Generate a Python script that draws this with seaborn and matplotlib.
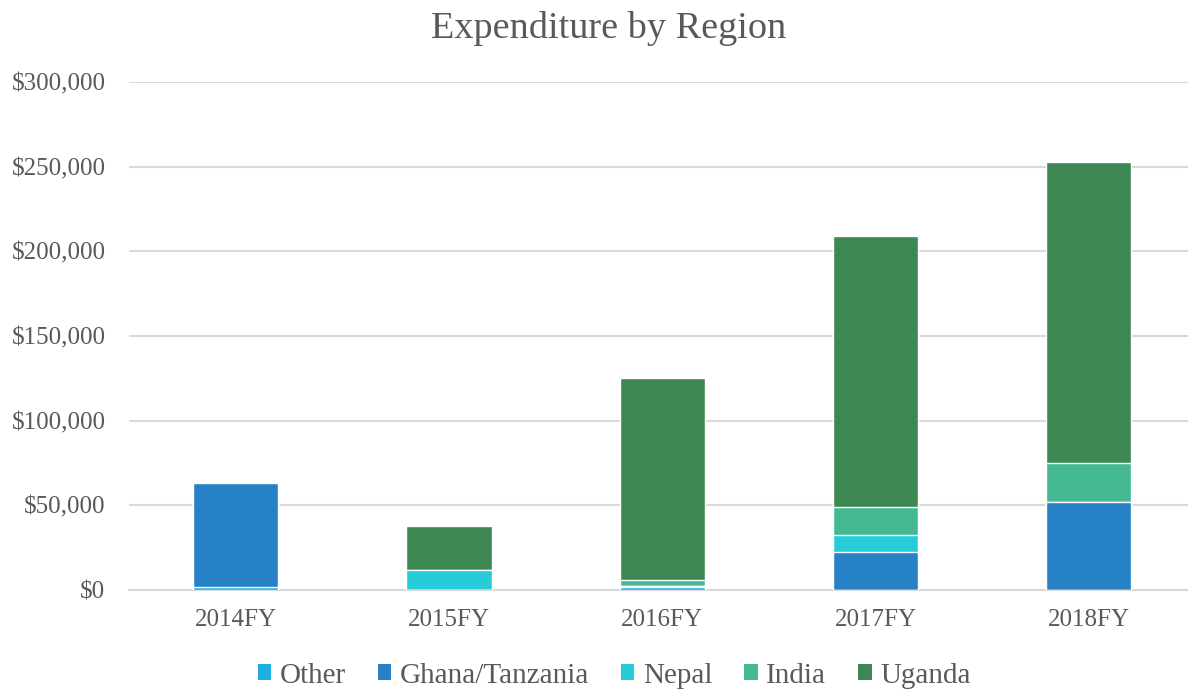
import matplotlib
matplotlib.use("Agg")
import matplotlib.pyplot as plt
import seaborn as sns
import numpy as np
import pandas as pd
from matplotlib.patches import Patch
from matplotlib.ticker import FuncFormatter

years = ["2014FY", "2015FY", "2016FY", "2017FY", "2018FY"]
series = ["Other", "Ghana/Tanzania", "Nepal", "India", "Uganda"]
other = [1800, 0, 1500, 0, 0]
ghana = [61400, 0, 600, 22300, 51800]
nepal = [0, 11800, 0, 10200, 0]
india = [0, 0, 4100, 16400, 23000]
uganda = [0, 26000, 119000, 160100, 177900]
colors = ["#1EAEE4", "#2781C6", "#26CDD8", "#44B994", "#3D8753"]

sns.set_theme(style="white")
plt.rcParams["font.family"] = ["Liberation Serif", "DejaVu Serif"]
text_color = "#595959"

data = [other, ghana, nepal, india, uganda]
cum = np.zeros(len(years))
cums = []
for s, vals in zip(series, data):
    cum = cum + np.array(vals, dtype=float)
    cums.append(cum.copy())

fig = plt.figure(figsize=(11.88, 6.9), dpi=100)
ax = fig.add_axes([129/1188, 1 - 590/690, 1 - 129/1188, (590 - 82)/690])

for i in range(len(series) - 1, -1, -1):
    d = pd.DataFrame({"year": years, "value": cums[i]})
    sns.barplot(data=d, x="year", y="value", color=colors[i], width=0.4,
                saturation=1, ax=ax, zorder=3)

ax.set_ylim(0, 300000)
ax.set_xlim(-0.5, 4.465)
ax.set_yticks(np.arange(0, 300001, 50000))
ax.yaxis.set_major_formatter(FuncFormatter(lambda v, p: f"${v:,.0f}"))
ax.grid(axis="y", color="#D9D9D9", linewidth=1.5, zorder=0)
ax.set_axisbelow(True)
for sp in ["top", "right", "left"]:
    ax.spines[sp].set_visible(False)
ax.spines["bottom"].set_color("#D9D9D9")
ax.spines["bottom"].set_linewidth(1.5)
ax.set_xlabel("")
ax.set_ylabel("")
ax.tick_params(axis="both", length=0, labelsize=18, colors=text_color)
ax.tick_params(axis="x", pad=14)
ax.tick_params(axis="y", pad=17)

fig.text(0.512, 0.959, "Expenditure by Region", ha="center", va="center",
         fontsize=27.5, color=text_color)

handles = [Patch(facecolor=c, edgecolor="none") for c in colors]
leg = fig.legend(handles, series, loc="center", bbox_to_anchor=(0.517, 0.021),
                 ncol=5, frameon=False, fontsize=21, handlelength=0.45,
                 handleheight=0.45, handletextpad=0.3, columnspacing=1.1)
for t in leg.get_texts():
    t.set_color(text_color)

fig.savefig("out.png", dpi=100)
